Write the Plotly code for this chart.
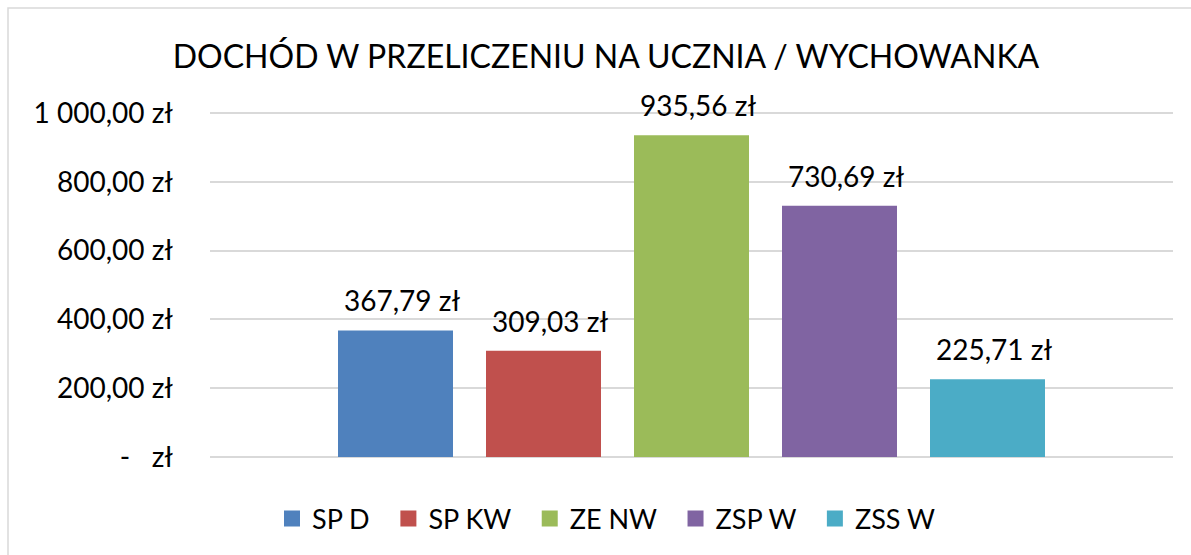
import plotly.graph_objects as go

title = "DOCHÓD W PRZELICZENIU NA UCZNIA / WYCHOWANKA"
series = ["SP D", "SP KW", "ZE NW", "ZSP W", "ZSS W"]
values = [367.79, 309.03, 935.56, 730.69, 225.71]
colors = ["#4f81bd", "#c0504d", "#9bbb59", "#8064a2", "#4bacc6"]
tick_vals = [0, 200, 400, 600, 800, 1000]
tick_text = ["-\u00a0\u00a0\u00a0zł", "200,00 zł", "400,00 zł", "600,00 zł", "800,00 zł", "1\u00a0000,00 zł"]

FONT = "Lato"
LBL = 28

def pl(v):
    s = f"{v:,.2f}".replace(",", " ").replace(".", ",")
    return s.replace(" ", "\u00a0") + " zł"

fig = go.Figure()
for name, v, c in zip(series, values, colors):
    fig.add_trace(go.Bar(
        x=[name], y=[v], name=name, marker=dict(color=c, line=dict(width=0)),
        showlegend=False, legendgroup=name,
        hovertemplate="%{y}<extra>" + name + "</extra>",
    ))
    fig.add_annotation(x=name, y=v, xref="x", yref="y", text=pl(v), showarrow=False,
                       yanchor="bottom", yshift=11, xshift=6,
                       font=dict(family=FONT, size=LBL, color="#000000"))

# legend entries (square swatches)
for name, c in zip(series, colors):
    fig.add_trace(go.Scatter(
        x=[series[0]], y=[None], mode="markers", name=name + "\u00a0\u00a0", legendgroup=name,
        marker=dict(symbol="square", size=18, color=c), hoverinfo="skip",
    ))

W, H = 1191, 555
L, R, T, B = 210, W - 1173, 113, H - 459
pw, ph = W - L - R, H - T - B

def px_x(p):
    return (p - L) / pw

def px_y(p):
    return (H - B - p) / ph

slot = 148.0
r0 = -(395.5 - L) / slot
r1 = r0 + pw / slot

fig.update_layout(
    width=W, height=H,
    margin=dict(l=L, r=R, t=T - 1, b=B - 1),
    paper_bgcolor="white", plot_bgcolor="white",
    barmode="overlay", bargap=0.223,
    font=dict(family=FONT, color="#000000"),
    title=dict(text=title, x=606 / W, xanchor="center", y=1 - 57 / H, yanchor="middle",
               font=dict(family=FONT, size=32, color="#000000")),
    showlegend=True,
    legend=dict(orientation="h", x=px_x(613), xanchor="center", y=px_y(520), yanchor="middle",
                font=dict(family=FONT, size=27, color="#000000"), traceorder="normal",
                itemsizing="trace"),
    xaxis=dict(range=[r0, r1], showticklabels=False, showgrid=False, zeroline=False, showline=False,
               type="category"),
    yaxis=dict(range=[-3, 1003], tickvals=tick_vals, ticktext=tick_text,
               showgrid=True, gridcolor="#d9d9d9", gridwidth=1.5,
               zeroline=False, showline=False, ticks="", ticklabelstandoff=36,
               tickfont=dict(family=FONT, size=LBL, color="#000000")),
    shapes=[dict(type="rect", xref="paper", yref="paper",
                 x0=px_x(8), x1=px_x(1230), y0=px_y(9), y1=px_y(600),
                 line=dict(color="#d9d9d9", width=1.5), fillcolor="rgba(0,0,0,0)", layer="below")],
)

fig.write_html("out.html", config={"displayModeBar": False},
               post_script="document.body.style.margin='0';document.body.style.padding='0';")
